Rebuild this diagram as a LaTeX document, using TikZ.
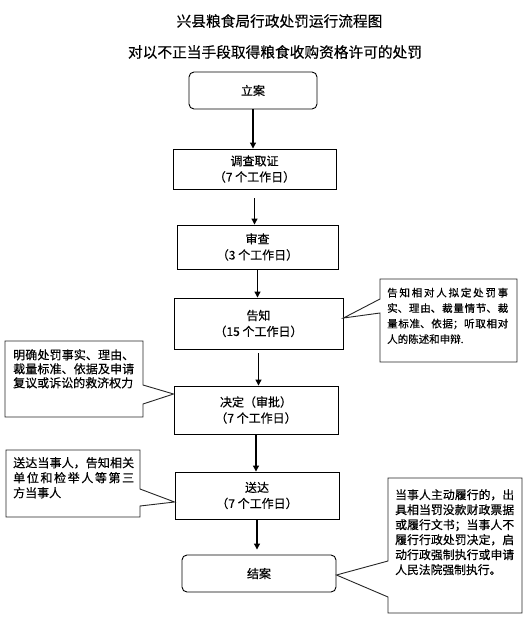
\documentclass[tikz,border=0pt]{standalone}
\usepackage{fontspec}
\newfontfamily\cjk[FakeBold=0.4]{Noto Sans CJK SC}
\usetikzlibrary{arrows.meta,calc}
\XeTeXlinebreaklocale "zh"
\XeTeXlinebreakskip=0pt plus 6pt
\begin{document}
\begin{tikzpicture}[x=1pt,y=-1pt,
  box/.style={draw=black, line width=0.9, align=center, inner sep=0,
    font=\cjk\fontsize{12}{16}\selectfont},
  rbox/.style={box, rounded corners=5},
  arr/.style={-{Triangle[length=6,width=6]}, line width=1.1},
  call/.style={draw=black!85, line width=0.9, fill=white},
  ctext/.style={anchor=north west, align=justify, inner sep=0},
  ttl/.style={inner sep=0, font=\cjk\fontsize{14.7}{16}\selectfont}]
\useasboundingbox (0,0) rectangle (531,628);

% titles
\node[ttl] (title) at (279.5,21) {兴县粮食局行政处罚运行流程图};
\node[ttl] (subtitle) at (275,52) {对以不正当手段取得粮食收购资格许可的处罚};

% main flow
\node[rbox, minimum width=128, minimum height=37] (lian) at (253,90.5) {立案};
\node[box, minimum width=163, minimum height=40] (diaocha) at (254.5,169) {调查取证\\（7 个工作日）};
\node[box, minimum width=161, minimum height=44] (shencha) at (257.5,247) {审查\\（3 个工作日）};
\node[box, minimum width=169, minimum height=51] (gaozhi) at (258.5,323.5) {告知\\（15 个工作日）};
\node[box, minimum width=164, minimum height=48] (jueding) at (256,410) {决定（审批）\\（7 个工作日）};
\node[box, minimum width=164, minimum height=47] (songda) at (257,495.5) {送达\\（7 个工作日）};
\node[rbox, minimum width=154, minimum height=37] (jiean) at (259,573.5) {结案};

\draw[arr] (lian.south) -- (lian.south |- diaocha.north);
\draw[arr, shorten <=9] (diaocha.south) -- (diaocha.south |- shencha.north);
\draw[arr] (shencha.south) -- (shencha.south |- gaozhi.north);
\draw[arr, shorten <=4] (gaozhi.south) -- (gaozhi.south |- jueding.north);
\draw[arr] (jueding.south) -- (jueding.south |- songda.north);
\draw[arr] (songda.south) -- ($(songda.south |- jiean.north)+(0,-5)$);

% callout A (gaozhi, right)
\draw[call] (380,279) -- (517,279) -- (517,362) -- (380,362) -- (380,313)
  -- ($(gaozhi.east)+(0,-5.5)$) -- (380,299) -- cycle;
\node[ctext, text width=121, font=\cjk\fontsize{10.5}{15.5}\selectfont] (ctA) at (387,287.5)
  {告知相对人拟定处罚事\linebreak 实、理由、裁量情节、裁\linebreak 量标准、依据；听取相对\linebreak 人的陈述和申辩.};

% callout B (jueding, left)
\draw[call] (5,341) -- (143,341) -- (143,385) -- ($(jueding.west)+(0,-16)$)
  -- (143,404) -- (143,417) -- (5,417) -- cycle;
\node[ctext, text width=121, font=\cjk\fontsize{12}{14}\selectfont] (ctB) at (13,349)
  {明确处罚事实、理由、\linebreak 裁量标准、依据及申请\linebreak 复议或诉讼的救济权力};

% callout C (songda, left)
\draw[call] (6,450) -- (140,450) -- (140,489) -- ($(songda.west)+(0,6.5)$)
  -- (140,506) -- (140,517) -- (6,517) -- cycle;
\node[ctext, text width=121, font=\cjk\fontsize{12}{15}\selectfont] (ctC) at (13,457)
  {送达当事人，告知相关\linebreak 单位和检举人等第三\linebreak 方当事人};

% callout D (jiean, right)
\draw[call] (388,478) -- (522,478) -- (522,613) -- (388,613) -- (388,597)
  -- ($(jiean.east)+(0,1.5)$) -- (388,561) -- cycle;
\node[ctext, text width=119, font=\cjk\fontsize{11.8}{15}\selectfont] (ctD) at (395,489)
  {当事人主动履行的，出\linebreak 具相当罚没款财政票据\linebreak 或履行文书；当事人不\linebreak 履行行政处罚决定，启\linebreak 动行政强制执行或申请\linebreak 人民法院强制执行。};
\end{tikzpicture}
\end{document}
